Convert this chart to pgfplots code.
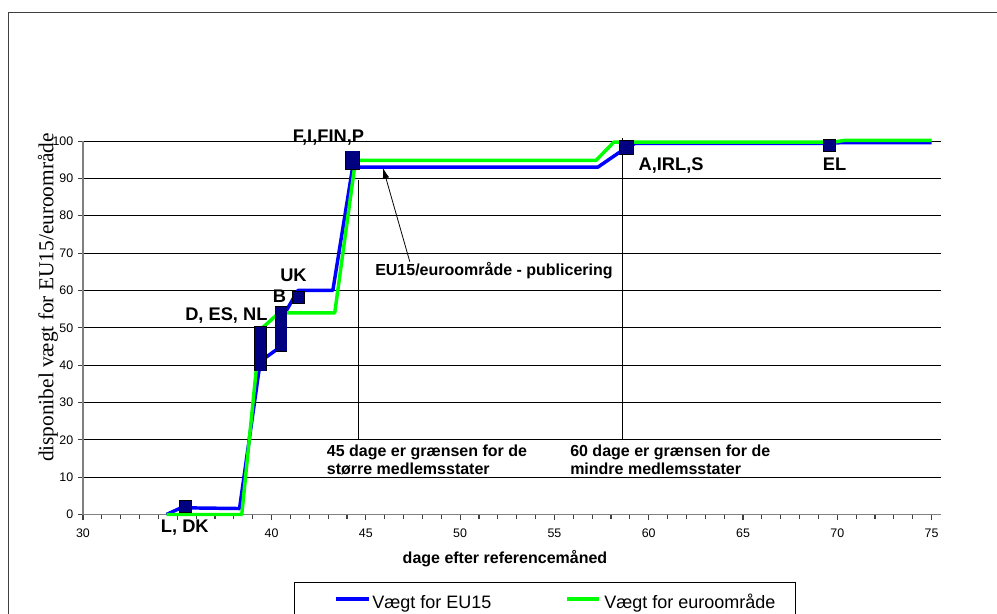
\documentclass[border=0pt]{standalone}
\usepackage{pgfplots}
\pgfplotsset{compat=1.18}
\usetikzlibrary{arrows.meta}
\usepackage{fontspec}
\setmainfont{Liberation Sans}
\newfontfamily\serifF{Liberation Serif}

\definecolor{eublue}{RGB}{0,0,255}
\definecolor{eugreen}{RGB}{0,255,0}
\definecolor{navymark}{RGB}{0,0,128}
\definecolor{axgray}{RGB}{128,128,128}
\definecolor{framegray}{RGB}{64,64,64}

\pgfplotsset{
  pubmark/.style={only marks, mark=square*, mark size=#1,
    mark options={fill=navymark, draw=black, line width=0.45pt}},
  % several countries published on the same day: a stack of squares
  pubstackout/.style={black, line width=#1, line cap=rect, mark=none},
  pubstackin/.style={navymark, line width=#1, line cap=rect, mark=none},
}

\begin{document}
\begin{tikzpicture}
% pixel grid of the reference: 1px = 0.75pt, y downwards
\begin{scope}[x=0.75pt,y=-0.75pt]
  \coordinate (ax) at (83,514.5);
\end{scope}

\begin{axis}[
  at={(ax)}, anchor=south west,
  scale only axis, width=643.5pt, height=280.1pt,
  xmin=30, xmax=75.5, ymin=0, ymax=100,
  axis x line*=bottom, axis y line*=left,
  axis line style={axgray, line width=1pt},
  xtick={30,35,...,75}, minor x tick num=4,
  xticklabels={30,,40,45,50,55,60,65,70,75},
  ytick={0,10,...,100},
  tick align=outside,
  major tick length=3.75pt, minor tick length=3.5pt,
  tick style={black!75, line width=0.8pt},
  ymajorgrids, major grid style={black, line width=0.8pt},
  ticklabel style={font=\fontsize{9.3}{10}\selectfont},
  xticklabel style={yshift=-3.5pt},
  /pgf/number format/assume math mode=true,
  clip=false,
]
% Vaegt for EU15
\addplot[eublue, line width=2.6pt, line join=round] coordinates {
  (34.43,0) (35.2,1.8) (38.3,1.6) (39.4,41) (40.5,45) (40.6,53)
  (41.4,60) (43.25,60) (44.3,93) (57.3,93) (58.8,98.2) (59.3,99.4)
  (69.7,99.4) (70.3,99.6) (75,99.6)
};
% Vaegt for euroomraade
\addplot[eugreen, line width=2.6pt, line join=round] coordinates {
  (34.43,0) (38.42,0) (39.4,49.5) (40.4,54) (43.35,54) (44.45,94.8)
  (57.2,94.8) (58.15,99.7) (69.8,99.7) (70.4,100.2) (75,100.2)
};

% publicering
\addplot[pubmark=4.5pt] coordinates {(35.42,2.1) (41.4,58.1) (69.6,98.9)};
\addplot[pubmark=5.4pt] coordinates {(58.8,98.3)};
% D, ES, NL
\addplot[pubstackout=9.4pt] coordinates {(39.4,40) (39.4,48.7)};
\addplot[pubstackin=8.5pt] coordinates {(39.4,40) (39.4,48.7)};
% B
\addplot[pubstackout=9.4pt] coordinates {(40.5,45.2) (40.5,54.1)};
\addplot[pubstackin=8.5pt] coordinates {(40.5,45.2) (40.5,54.1)};
% F, I, FIN, P
\addplot[pubstackout=11pt] coordinates {(44.3,94.2) (44.3,95.5)};
\addplot[pubstackin=10.1pt] coordinates {(44.3,94.2) (44.3,95.5)};

\draw[black, line width=0.75pt] (axis cs:44.61,20) -- (axis cs:44.61,89.5);
\draw[black, line width=0.75pt] (axis cs:58.63,20) -- (axis cs:58.63,100.8);
\draw[-{Latex[length=8pt,width=5pt]}, line width=0.6pt]
  (axis cs:47.33,67.7) -- (axis cs:45.91,92.8);
\end{axis}

\begin{scope}[x=0.75pt,y=-0.75pt]
  % outer chart frame (cut off at right and bottom)
  \draw[framegray, line width=1.1pt] (8.3,660) -- (8.3,12.3) -- (1010,12.3);

  \node[anchor=base, rotate=90, inner sep=0,
        font=\serifF\fontsize{16}{18}\selectfont] at (53.3,297.5)
        {disponibel vægt for EU15/euroområde};
  \node[anchor=base, inner sep=0, font=\bfseries\fontsize{12}{14}\selectfont]
        at (505,563) {dage efter referencemåned};

  \begin{scope}[every node/.style={inner sep=0, font=\bfseries\fontsize{13.7}{15}\selectfont}]
    \node[anchor=base west] at (160.7,532.7) {L, DK};
    \node[anchor=base west] at (185,320.7) {D, ES, NL};
    \node[anchor=base west] at (272.7,302.3) {B};
    \node[anchor=base west] at (280,281.7) {UK};
    \node[anchor=base west] at (292.7,142.7) {F,I,FIN,P};
    \node[anchor=base west] at (638.3,170.7) {A,IRL,S};
    \node[anchor=base west] at (822.7,170.7) {EL};
  \end{scope}

  \begin{scope}[every node/.style={inner sep=0, anchor=base west, font=\bfseries\fontsize{12}{14}\selectfont}]
    \node at (375,275) {EU15/euroområde - publicering};
    \node at (326.7,456) {45 dage er grænsen for de};
    \node at (326.7,474) {større medlemsstater};
    \node at (570,456) {60 dage er grænsen for de};
    \node at (570,474) {mindre medlemsstater};
  \end{scope}

  % legend box
  \draw[black, line width=0.75pt] (294,660) -- (294,582.7) -- (795.5,582.7) -- (795.5,660);
  \draw[eublue, line width=2.6pt] (335.5,599) -- (368.7,599);
  \draw[eugreen, line width=2.6pt] (567,599) -- (599,599);
  \node[anchor=base west, inner sep=0, font=\fontsize{13.5}{15}\selectfont] at (372,608) {Vægt for EU15};
  \node[anchor=base west, inner sep=0, font=\fontsize{13.5}{15}\selectfont] at (604,608) {Vægt for euroområde};
\end{scope}

\pgfresetboundingbox
\path[use as bounding box] (0,0) rectangle (747.75pt,-460.5pt);
\end{tikzpicture}
\end{document}
